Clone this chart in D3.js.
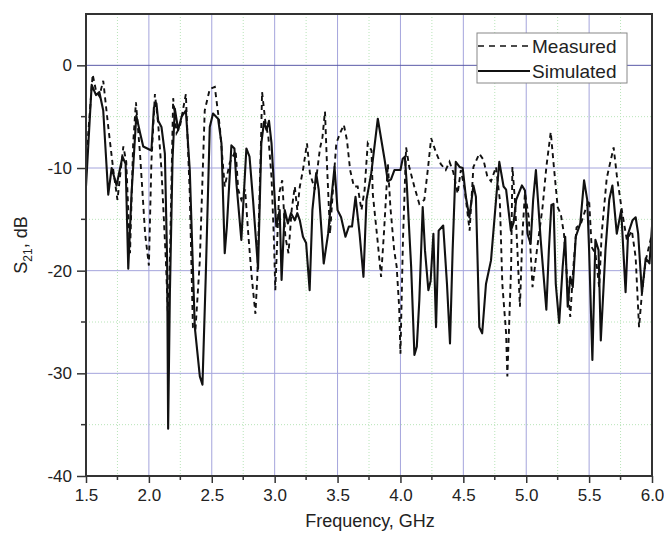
<!DOCTYPE html>
<html><head><meta charset="utf-8">
<script src="https://cdn.jsdelivr.net/npm/d3@7"></script>
<style>body{margin:0;background:#fff}svg{display:block}text{font-family:"Liberation Sans",Arial,sans-serif}</style>
</head><body><svg id="c" width="664" height="534"></svg>
<script>
const xTicks = [1.5, 2.0, 2.5, 3.0, 3.5, 4.0, 4.5, 5.0, 5.5, 6.0];
const yTicks = [-40, -30, -20, -10, 0];
const seriesNames = ["Measured", "Simulated"];

const simFreq = [
1.5,1.545,1.58,1.606,1.637,1.677,1.704,1.743,1.79,1.815,
1.836,1.862,1.90,1.93,1.955,2.02,2.04,2.06,2.074,2.10,
2.127,2.145,2.153,2.167,2.188,2.206,2.233,2.26,2.294,2.325,
2.365,2.405,2.426,2.452,2.484,2.51,2.55,2.577,2.603,2.62,
2.656,2.68,2.696,2.735,2.775,2.80,2.828,2.868,2.894,2.915,
2.935,2.955,2.975,3.013,3.04,3.055,3.08,3.105,3.13,3.16,
3.18,3.2,3.225,3.25,3.278,3.30,3.33,3.35,3.39,3.425,
3.45,3.476,3.50,3.528,3.563,3.59,3.615,3.643,3.675,3.706,
3.73,3.768,3.82,3.873,3.9,3.925,3.952,4.0,4.018,4.035,
4.05,4.085,4.111,4.13,4.15,4.177,4.195,4.222,4.24,4.262,
4.283,4.304,4.34,4.37,4.394,4.415,4.44,4.47,4.495,4.52,
4.548,4.58,4.60,4.627,4.65,4.68,4.72,4.76,4.786,4.82,
4.84,4.878,4.9,4.92,4.966,4.99,5.01,5.035,5.055,5.077,
5.115,5.16,5.18,5.20,5.217,5.235,5.262,5.29,5.31,5.33,
5.35,5.37,5.394,5.43,5.46,5.485,5.5,5.526,5.55,5.575,
5.593,5.63,5.66,5.685,5.72,5.755,5.79,5.81,5.845,5.87,
5.89,5.92,5.95,5.98,6.0];
const simDb = [
-11.8,-1.9,-2.9,-2.6,-4.4,-12.6,-10.0,-11.7,-8.9,-9.6,
-19.8,-12.5,-4.9,-6.6,-7.9,-8.3,-4.1,-3.7,-5.4,-6.0,
-8.6,-19.0,-35.4,-22.2,-9.2,-4.2,-6.3,-5.0,-4.4,-10.2,
-25.5,-30.3,-31.1,-20.6,-6.0,-4.7,-5.2,-7.6,-18.3,-15.7,
-7.8,-8.1,-11.5,-17.0,-8.1,-8.9,-13.1,-19.8,-7.6,-5.5,
-6.3,-5.4,-7.6,-15.7,-14.1,-20.9,-14.1,-15.4,-14.4,-15.1,
-14.4,-15.1,-16.7,-17.3,-21.9,-14.1,-10.5,-12.1,-19.3,-16.4,
-13.1,-9.9,-14.1,-14.8,-16.7,-15.7,-15.7,-12.8,-16.4,-20.6,
-13.1,-10.5,-5.2,-9.1,-11.3,-11.1,-10.2,-10.2,-9.1,-8.9,
-11.5,-19.6,-28.2,-27.4,-22.9,-13.8,-18.0,-21.9,-21.0,-16.4,
-25.5,-16.1,-15.6,-21.3,-27.1,-18.0,-9.4,-9.9,-10.0,-12.8,
-14.8,-11.7,-12.8,-25.5,-26.1,-21.3,-19.0,-13.1,-9.4,-11.8,
-12.1,-16.1,-15.3,-13.1,-11.7,-12.2,-16.4,-17.4,-13.1,-10.2,
-17.0,-23.8,-18.0,-13.6,-13.5,-21.3,-25.1,-19.6,-16.7,-23.5,
-20.6,-21.6,-16.7,-15.4,-11.2,-13.1,-18.0,-28.7,-17.0,-18.0,
-26.8,-18.0,-13.1,-11.7,-16.4,-14.1,-22.1,-16.4,-15.1,-14.8,
-16.4,-22.2,-18.8,-19.3,-15.7];

const measFreq = [
1.5,1.553,1.58,1.606,1.637,1.677,1.717,1.75,1.797,1.82,
1.85,1.875,1.897,1.93,1.97,2.0,2.02,2.048,2.074,2.10,
2.135,2.153,2.167,2.193,2.22,2.246,2.294,2.325,2.35,2.37,
2.405,2.444,2.484,2.524,2.564,2.603,2.643,2.69,2.71,2.735,
2.765,2.79,2.815,2.847,2.862,2.89,2.90,2.925,2.95,2.975,
2.995,3.005,3.035,3.06,3.085,3.11,3.135,3.16,3.18,3.2,
3.225,3.257,3.28,3.32,3.36,3.38,3.40,3.415,3.44,3.465,
3.49,3.52,3.55,3.575,3.6,3.63,3.66,3.69,3.715,3.74,
3.77,3.78,3.82,3.846,3.87,3.9,3.92,3.95,3.97,3.99,
4.0,4.02,4.045,4.07,4.11,4.15,4.19,4.22,4.244,4.28,
4.32,4.36,4.39,4.42,4.455,4.48,4.51,4.55,4.58,4.627,
4.66,4.69,4.72,4.76,4.79,4.81,4.84,4.85,4.88,4.89,
4.91,4.93,4.95,4.97,4.99,5.02,5.05,5.085,5.13,5.16,
5.195,5.22,5.25,5.275,5.3,5.33,5.35,5.375,5.4,5.435,
5.47,5.5,5.52,5.55,5.58,5.6,5.64,5.66,5.695,5.72,
5.76,5.8,5.84,5.87,5.897,5.92,5.95,6.0];
const measDb = [
-9.5,-0.9,-2.5,-3.0,-1.5,-6.0,-10.2,-13.1,-7.9,-9.4,
-18.3,-7.6,-3.6,-8.7,-16.4,-19.5,-9.4,-2.8,-5.7,-10.2,
-19.0,-24.8,-19.0,-3.2,-6.6,-6.0,-2.8,-12.5,-25.5,-25.8,
-19.0,-4.4,-2.3,-2.1,-6.0,-11.8,-9.5,-8.3,-12.1,-13.1,
-12.1,-16.4,-20.3,-24.2,-20.6,-8.1,-2.6,-5.4,-7.0,-10.9,
-17.3,-21.9,-12.5,-11.2,-16.7,-18.3,-14.1,-11.8,-14.1,-11.8,
-10.2,-7.6,-10.5,-12.1,-8.1,-7.0,-4.5,-9.4,-16.4,-11.8,
-7.6,-6.6,-5.8,-7.3,-10.2,-11.8,-11.8,-14.1,-12.1,-7.6,
-8.3,-12.5,-17.3,-20.6,-16.1,-9.6,-13.8,-18.0,-19.6,-23.6,
-28.1,-17.0,-8.0,-9.9,-11.8,-13.5,-13.1,-9.9,-7.1,-8.4,
-9.6,-10.2,-9.4,-10.4,-12.5,-10.2,-12.0,-16.1,-9.9,-8.6,
-9.2,-10.8,-11.3,-9.9,-13.1,-21.3,-26.1,-30.3,-19.6,-9.9,
-13.1,-18.0,-23.5,-16.4,-12.4,-14.8,-21.6,-18.0,-13.8,-9.9,
-6.5,-9.9,-13.8,-14.5,-16.4,-21.6,-24.5,-19.6,-15.8,-15.4,
-14.1,-13.1,-17.7,-18.3,-21.6,-16.4,-11.0,-9.9,-8.0,-10.7,
-14.1,-17.0,-16.1,-18.7,-25.5,-22.2,-19.0,-16.4];

const svg = d3.select("#c");
const L = 86, R = 652, T = 14, B = 476;
const x = d3.scaleLinear().domain([1.5, 6.0]).range([L, R]);
const y = d3.scaleLinear().domain([-40, 5]).range([B, T]);

// minor grid
const xMinor = d3.range(1.75, 6.0, 0.5);
const yMinor = [-35, -25, -15, -5];
const g = svg.append("g");
g.selectAll(".vmin").data(xMinor).enter().append("line")
  .attr("x1", d => x(d)).attr("x2", d => x(d)).attr("y1", T).attr("y2", B)
  .attr("stroke", "#b8e4b8").attr("stroke-width", 1).attr("stroke-dasharray", "1,2");
g.selectAll(".hmin").data(yMinor).enter().append("line")
  .attr("y1", d => y(d)).attr("y2", d => y(d)).attr("x1", L).attr("x2", R)
  .attr("stroke", "#b8e4b8").attr("stroke-width", 1).attr("stroke-dasharray", "1,2");
// major grid
g.selectAll(".vmaj").data(xTicks.slice(1, -1)).enter().append("line")
  .attr("x1", d => x(d)).attr("x2", d => x(d)).attr("y1", T).attr("y2", B)
  .attr("stroke", "#a4a4dc").attr("stroke-width", 1);
g.selectAll(".hmaj").data(yTicks.slice(1)).enter().append("line")
  .attr("y1", d => y(d)).attr("y2", d => y(d)).attr("x1", L).attr("x2", R)
  .attr("stroke", d => d === 0 ? "#5a5aa8" : "#a4a4dc").attr("stroke-width", 1);

// curves
const measData = measFreq.map((f, i) => [f, measDb[i]]).filter(d => d[1] !== undefined);
const simData = simFreq.map((f, i) => [f, simDb[i]]).filter(d => d[1] !== undefined);
const line = d3.line().x(d => x(d[0])).y(d => y(d[1]));
svg.append("path").datum(measData).attr("d", line).attr("fill", "none")
  .attr("stroke", "#111").attr("stroke-width", 1.9).attr("stroke-dasharray", "5,4");
svg.append("path").datum(simData).attr("d", line).attr("fill", "none")
  .attr("stroke", "#111").attr("stroke-width", 2.1).attr("stroke-linejoin", "round");

// axes
const xAxis = d3.axisBottom(x).tickValues(xTicks).tickFormat(d3.format(".1f")).tickSize(7).tickPadding(6);
const yAxis = d3.axisLeft(y).tickValues(yTicks).tickFormat(d => d).tickSize(9).tickPadding(5);
const xa = svg.append("g").attr("transform", `translate(0,${B})`).call(xAxis);
const ya = svg.append("g").attr("transform", `translate(${L},0)`).call(yAxis);
[xa, ya].forEach(a => {
  a.select(".domain").remove();
  a.selectAll("line").attr("stroke", "#333").attr("stroke-width", 1.5);
  a.selectAll("text").attr("font-size", 17).attr("fill", "#222")
   .style("font-family", '"Liberation Sans",Arial,sans-serif');
});
// minor ticks
svg.append("g").selectAll("line").data(xMinor).enter().append("line")
  .attr("x1", d => x(d)).attr("x2", d => x(d)).attr("y1", B).attr("y2", B + 4)
  .attr("stroke", "#333").attr("stroke-width", 1.5);
svg.append("g").selectAll("line").data(yMinor).enter().append("line")
  .attr("y1", d => y(d)).attr("y2", d => y(d)).attr("x1", L - 5).attr("x2", L)
  .attr("stroke", "#333").attr("stroke-width", 1.5);
// frame
svg.append("rect").attr("x", L).attr("y", T).attr("width", R - L).attr("height", B - T)
  .attr("fill", "none").attr("stroke", "#333").attr("stroke-width", 2);

// axis labels
svg.append("text").attr("x", (L + R) / 2 + 1).attr("y", 527).attr("text-anchor", "middle")
  .attr("font-size", 18).attr("fill", "#222").text("Frequency, GHz");
const yl = svg.append("text").attr("transform", `translate(27,${(T + B) / 2}) rotate(-90)`)
  .attr("text-anchor", "middle").attr("font-size", 18).attr("fill", "#222");
yl.append("tspan").text("S");
yl.append("tspan").attr("font-size", 12).attr("dy", 5).text("21");
yl.append("tspan").attr("dy", -5).text(", dB");

// legend
const lg = svg.append("g");
lg.append("rect").attr("x", 477).attr("y", 33).attr("width", 150).attr("height", 50)
  .attr("fill", "#fff").attr("stroke", "#888").attr("stroke-width", 1);
const legendRows = [
  { name: seriesNames[0], dash: "6,5", w: 1.6, yy: 46 },
  { name: seriesNames[1], dash: null, w: 2.1, yy: 71 }
];
legendRows.forEach(r => {
  lg.append("line").attr("x1", 478).attr("x2", 530).attr("y1", r.yy).attr("y2", r.yy)
    .attr("stroke", "#111").attr("stroke-width", r.w).attr("stroke-dasharray", r.dash);
  lg.append("text").attr("x", 532).attr("y", r.yy + 7).attr("font-size", 19)
    .attr("fill", "#222").text(r.name);
});
</script></body></html>
